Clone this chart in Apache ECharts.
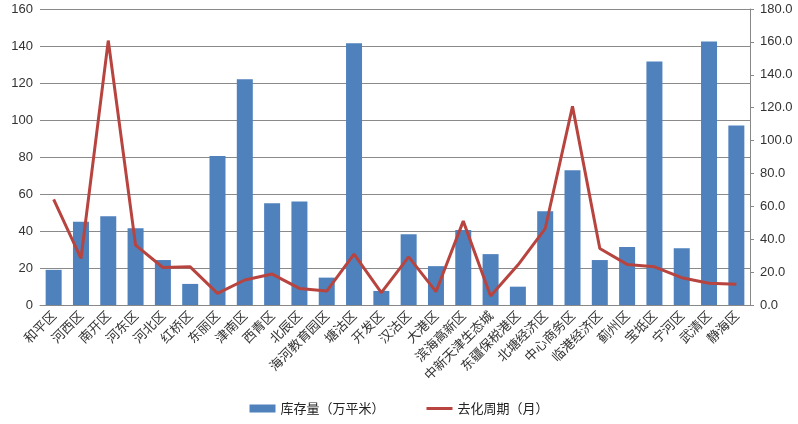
<!DOCTYPE html>
<html><head><meta charset="utf-8">
<script src="https://cdn.jsdelivr.net/npm/echarts@6/dist/echarts.min.js"></script>
<style>html,body{margin:0;padding:0;background:#fff}#c{width:798px;height:424px}</style>
</head><body><div id="c"></div>
<script>
const categories = ['和平区','河西区','南开区','河东区','河北区','红桥区','东丽区','津南区','西青区','北辰区','海河教育园区','塘沽区','开发区','汉沽区','大港区','滨海高新区','中新天津生态城','东疆保税港区','北塘经济区','中心商务区','临港经济区','蓟州区','宝坻区','宁河区','武清区','静海区'];
const stock = [19,45,48,41.5,24.3,11.4,80.5,122,55,56,14.8,141.5,7.6,38.3,21,40.5,27.5,9.9,50.7,72.8,24.3,31.3,131.6,30.7,142.4,97];
const cycle = [64.3,28.3,160.8,36.4,22.8,23.2,7.1,15.2,18.8,10.1,8.5,30.9,7.5,29.3,8.1,51,5.5,24.3,46.5,120.8,34.4,24.7,23.2,16.6,13.2,12.6];
const leftTicks = {min:0,max:160,interval:20};
const rightTicks = {min:0,max:180,interval:20};
const font = '"Noto Sans CJK SC", "Liberation Sans", sans-serif';
const chart = echarts.init(document.getElementById('c'));
chart.setOption({
  animation:false,
  textStyle:{fontFamily:font},
  grid:{left:40,right:48,top:9,bottom:119},
  legend:{bottom:4,left:'center',itemGap:42,itemWidth:26,itemHeight:8,
    textStyle:{fontSize:13,color:'#222',fontFamily:font},
    data:[{name:'库存量（万平米）',icon:'rect'},
          {name:'去化周期（月）',icon:'path://M0,0 L26,0 L26,3 L0,3 Z',itemStyle:{color:'#B8443F'}}]},
  xAxis:{type:'category',data:categories,
    axisLine:{lineStyle:{color:'#888'}},
    axisTick:{show:false},
    axisLabel:{rotate:45,interval:0,fontSize:13,color:'#333',fontFamily:font,margin:8}},
  yAxis:[
    {type:'value',min:leftTicks.min,max:leftTicks.max,interval:leftTicks.interval,
     axisLine:{show:false},axisTick:{show:false},
     splitLine:{lineStyle:{color:'#8a8a8a',width:1}},
     axisLabel:{fontSize:13,color:'#333',margin:7,fontFamily:'"Liberation Sans", sans-serif'}},
    {type:'value',min:rightTicks.min,max:rightTicks.max,interval:rightTicks.interval,
     position:'right',
     axisLine:{show:true,lineStyle:{color:'#888'}},axisTick:{show:true,length:4,lineStyle:{color:'#888'}},
     splitLine:{show:false},
     axisLabel:{fontSize:13,color:'#333',margin:10,formatter:v=>v.toFixed(1),fontFamily:'"Liberation Sans", sans-serif'}}
  ],
  series:[
    {name:'库存量（万平米）',type:'bar',data:stock,barWidth:16,yAxisIndex:0,
     itemStyle:{color:'#4F81BD'}},
    {name:'去化周期（月）',type:'line',data:cycle,yAxisIndex:1,symbol:'none',
     lineStyle:{color:'#B8443F',width:3},itemStyle:{color:'#B8443F'}}
  ]
});
</script></body></html>
